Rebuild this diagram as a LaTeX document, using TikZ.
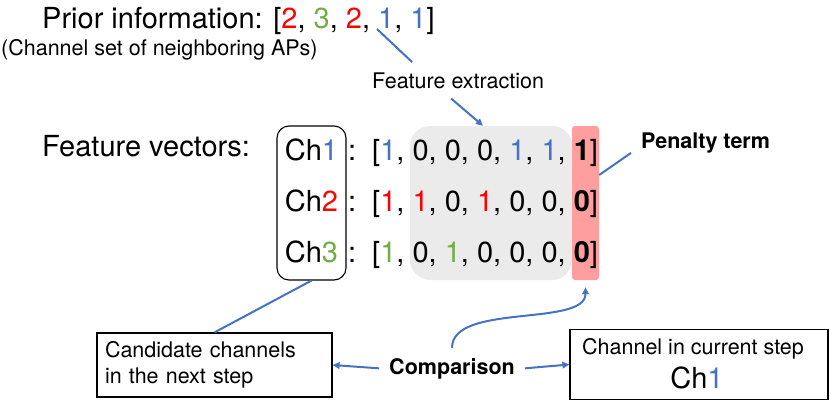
\documentclass[tikz,border=0pt]{standalone}
\usepackage{xcolor}
\usepackage{fontspec}
\setmainfont{TeX Gyre Heros}
\usetikzlibrary{
    arrows.meta,
    positioning
}

\definecolor{cblue}{HTML}{4472C4}
\definecolor{cred}{HTML}{FF0000}
\definecolor{cgreen}{HTML}{70AD47}
\definecolor{grayfill}{HTML}{EBEBEB}
\definecolor{pinkfill}{HTML}{FF9E9E}

\newcommand{\bigtxt}{\fontsize{29}{34}\selectfont}
\newcommand{\smtxt}{\fontsize{21.5}{25.5}\selectfont}
\newcommand{\bl}[1]{\textcolor{cblue}{#1}}
\newcommand{\rd}[1]{\textcolor{cred}{#1}}
\newcommand{\gr}[1]{\textcolor{cgreen}{#1}}

\begin{document}
\begin{tikzpicture}[
    x=1pt, y=-1pt,
    bigtext/.style={
        font=\bigtxt,
        inner sep=0pt,
        anchor=base west
    },
    smalltext/.style={
        font=\smtxt,
        inner sep=0pt,
        anchor=base west
    },
    outbox/.style={
        rectangle,
        draw=black,
        line width=1.2pt,
        font=\smtxt,
        inner sep=8pt
    },
    chbox/.style={
        rectangle,
        rounded corners=12pt,
        draw=black,
        line width=1.1pt,
        minimum width=69pt,
        minimum height=154pt
    },
    graybox/.style={
        rectangle,
        rounded corners=20pt,
        fill=grayfill,
        minimum width=162pt,
        minimum height=154pt
    },
    penbox/.style={
        rectangle,
        rounded corners=3pt,
        fill=pinkfill,
        minimum width=27pt,
        minimum height=154pt
    },
    line/.style={
        draw=cblue,
        line width=2pt
    },
    arrow/.style={
        line,
        -{Triangle[length=7pt,width=6.5pt]}
    }
]
\useasboundingbox (0,0) rectangle (830,402);

% =========================================================
% Prior information
% =========================================================
\node[bigtext] (prior) at (42,28)
{Prior information: [\rd{2}, \gr{3}, \rd{2}, \bl{1}, \bl{1}]};
\node[smalltext] (apset) at (1,55)
{(Channel set of neighboring APs)};
\coordinate (pc) at (377,29);

\node[smalltext] (fe) at (372,88) {Feature extraction};

% =========================================================
% Feature vectors
% =========================================================
\node[graybox] (gray) at (491,203) {};
\node[penbox] (pen) at (585.5,203) {};
\node[chbox] (chs) at (311.5,203) {};

\node[bigtext] (fv) at (42,156) {Feature vectors:};

\node[bigtext, anchor=base] (ch1) at (311.5,160) {Ch\bl{1}};
\node[bigtext, anchor=base] (ch2) at (311.5,211) {Ch\rd{2}};
\node[bigtext, anchor=base] (ch3) at (311.5,262) {Ch\gr{3}};

\node[bigtext] (v1) at (348,160)
{:\hspace{16pt}[\bl{1}, 0, 0, 0, \bl{1}, \bl{1}, \textbf{1}]};
\node[bigtext] (v2) at (348,211)
{:\hspace{16pt}[\rd{1}, \rd{1}, 0, \rd{1}, 0, 0, \textbf{0}]};
\node[bigtext] (v3) at (348,262)
{:\hspace{16pt}[\gr{1}, 0, \gr{1}, 0, 0, 0, \textbf{0}]};

\node[smalltext] (penalty) at (641,148) {\textbf{Penalty term}};

% =========================================================
% Comparison
% =========================================================
\node[outbox, minimum width=235pt, minimum height=64pt,
      align=left, text width=219pt] (cand) at (214.5,365)
{Candidate channels\\in the next step};

\node[outbox, minimum width=258pt, minimum height=70pt] (chan) at (699,364.5) {};
\node[smalltext, anchor=base] (chantitle) at (693,354) {Channel in current step};
\node[bigtext, anchor=base] (chanval) at (697,388) {Ch\bl{1}};

\node[font=\smtxt, inner sep=10pt, anchor=base] (cmp) at (452,374)
{\textbf{Comparison}};

% =========================================================
% Connectors
% =========================================================
\draw[line] (pc) -- ([xshift=-46pt,yshift=10pt]fe.north);
\draw[arrow] ([xshift=-7pt,yshift=-10pt]fe.south) -- ([xshift=-8pt]gray.north);

\draw[line] ([yshift=28pt]pen.east) -- ([xshift=-10pt]penalty.south west);
\draw[line] (chs.south) -- (cand.north);

\draw[arrow] (cmp.west) -- (cand.east);
\draw[arrow] (cmp.east) -- (chan.west);
\draw[arrow] (cmp.north) .. controls +(0,-45) and +(0,40) .. ([yshift=-7pt]pen.south);

\end{tikzpicture}
\end{document}
